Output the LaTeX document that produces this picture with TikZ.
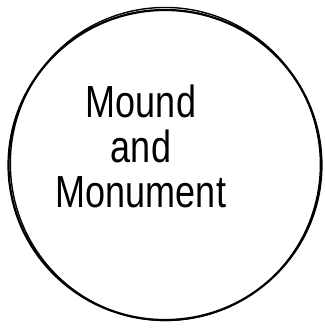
\documentclass[tikz,border=0pt]{standalone}
\usepackage{fontspec}
\setmainfont{Liberation Sans}
\tikzset{
  rim/.style={line width=2.2pt, line cap=round},
  label/.style={align=center, font=\fontsize{36}{36}\selectfont, inner sep=0pt,
    yscale=1.25, transform shape}
}

\begin{document}
\begin{tikzpicture}[x=1pt,y=-1pt]
  \useasboundingbox (0,0) rectangle (324,329);
  % hand-drawn rim, two strokes
  \draw[rim] (165,165) ellipse [x radius=156.5, y radius=155];
  \draw[rim, line width=1.4pt, rotate around={8:(165,165)}] (165.5,164) ellipse [x radius=155, y radius=156.5];
  \node[label] (mound) at (141,146) {Mound\\and\\Monument};
\end{tikzpicture}
\end{document}
